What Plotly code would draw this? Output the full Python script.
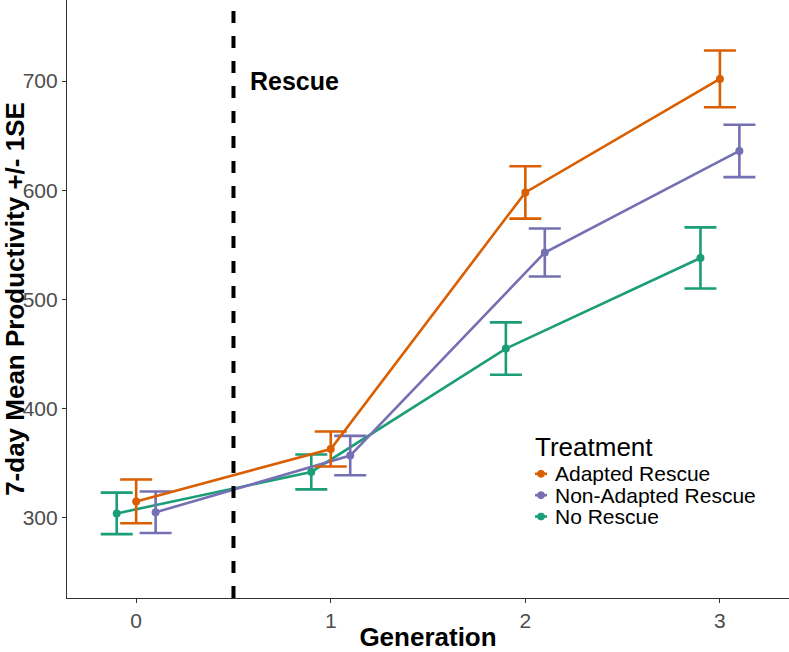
import plotly.graph_objects as go

# ---- data ----
generations = [0, 1, 2, 3]
treatments = ["Adapted Rescue", "Non-Adapted Rescue", "No Rescue"]
dodge = {"Adapted Rescue": 0.0, "Non-Adapted Rescue": 0.1, "No Rescue": -0.1}
colors = {"Adapted Rescue": "#D95F02", "Non-Adapted Rescue": "#7570B3", "No Rescue": "#1B9E77"}

adapted_mean = [315, 363, 598, 702]
adapted_se = [20, 16, 24, 26]
nonadapted_mean = [305, 357, 543, 636]
nonadapted_se = [19, 18, 22, 24]
norescue_mean = [304, 342, 455, 538]
norescue_se = [19, 16, 24, 28]

means = {"Adapted Rescue": adapted_mean, "Non-Adapted Rescue": nonadapted_mean, "No Rescue": norescue_mean}
ses = {"Adapted Rescue": adapted_se, "Non-Adapted Rescue": nonadapted_se, "No Rescue": norescue_se}

x_ticks = [0, 1, 2, 3]
y_ticks = [300, 400, 500, 600, 700]
rescue_gen = 0.5

FONT = "Liberation Sans, Arial, sans-serif"

fig = go.Figure()
for t in ["No Rescue", "Non-Adapted Rescue", "Adapted Rescue"]:
    xs = [g + dodge[t] for g in generations]
    fig.add_trace(go.Scatter(
        x=xs, y=means[t], name=t, mode="lines+markers",
        line=dict(color=colors[t], width=2.6),
        marker=dict(color=colors[t], size=8),
        error_y=dict(type="data", array=ses[t], color=colors[t], thickness=2.6, width=16),
        showlegend=False,
    ))

fig.add_vline(x=rescue_gen, line=dict(color="black", width=4, dash="12px,13px"))

fig.add_annotation(x=0.573, y=700, xref="x", yref="y", text="<b>Rescue</b>", showarrow=False,
                   xanchor="left", yanchor="middle", font=dict(size=25, color="black", family=FONT))

# manual legend (ggplot-style)
W, H = 789, 652
L, R, T, B = 67, 0, 0, 50
pw, ph = W - L - R, H - T - B

def px2paper(px, py):
    return (px - L) / pw, 1 - (py - T) / ph

tx, ty = px2paper(533, 450)
fig.add_annotation(x=tx, y=ty, xref="paper", yref="paper", text="Treatment", showarrow=False,
                   xanchor="left", yanchor="middle", font=dict(size=26, color="black", family=FONT))
item_y = [477, 498.5, 520]
for t, iy in zip(treatments, item_y):
    ax, ay = px2paper(553, iy)
    fig.add_annotation(x=ax, y=ay, xref="paper", yref="paper", text=t, showarrow=False,
                       xanchor="left", yanchor="middle", font=dict(size=21, color="black", family=FONT))
    x0, y0 = px2paper(535, iy)
    x1, _ = px2paper(547, iy)
    fig.add_shape(type="line", xref="paper", yref="paper", x0=x0, x1=x1, y0=y0, y1=y0,
                  line=dict(color=colors[t], width=2.6))
    cx0, cy0 = px2paper(537.5, iy - 3.5)
    cx1, cy1 = px2paper(544.5, iy + 3.5)
    fig.add_shape(type="circle", xref="paper", yref="paper", x0=cx0, x1=cx1, y0=cy1, y1=cy0,
                  fillcolor=colors[t], line=dict(color=colors[t], width=1))

fig.update_layout(
    width=W, height=H,
    margin=dict(l=L, r=R, t=T, b=B),
    paper_bgcolor="white", plot_bgcolor="white",
    font=dict(family=FONT),
)
fig.update_xaxes(
    range=[-0.3555, 3.355], tickvals=x_ticks, ticktext=[str(v) for v in x_ticks],
    showgrid=False, zeroline=False, showline=True, linecolor="#333333", linewidth=1.2,
    ticks="outside", ticklen=4, tickcolor="#333333",
    tickfont=dict(size=21, color="#4D4D4D", family=FONT),
    title=dict(text="<b>Generation</b>", font=dict(size=26, color="black", family=FONT), standoff=2),
)
fig.update_yaxes(
    range=[226.5, 774.3], tickvals=y_ticks, ticktext=[str(v) for v in y_ticks],
    showgrid=False, zeroline=False, showline=True, linecolor="#333333", linewidth=1.2,
    ticks="outside", ticklen=4, tickcolor="#333333",
    tickfont=dict(size=21, color="#4D4D4D", family=FONT),
    title=dict(text="<b>7-day Mean Productivity +/- 1SE</b>", font=dict(size=26, color="black", family=FONT), standoff=4),
)

fig.write_html("out.html")
